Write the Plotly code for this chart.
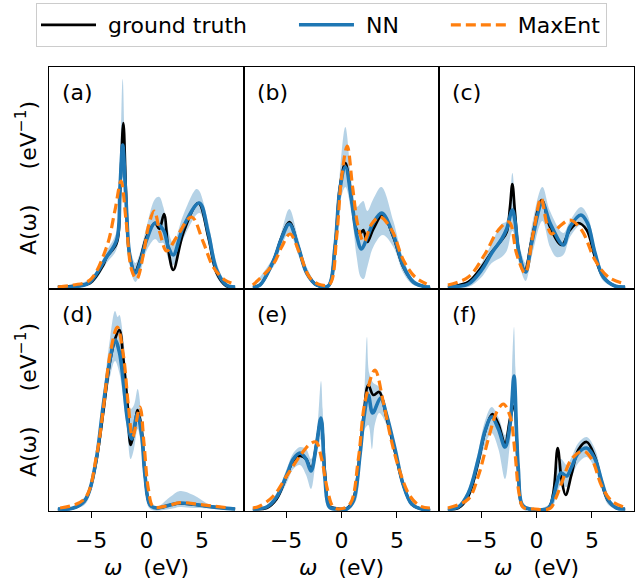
import plotly.graph_objects as go
from plotly.subplots import make_subplots

# Spectral functions A(omega): lists of (omega [eV], A [1/eV]) pairs per panel.

# ---------------- (a) ----------------
truth_a = [(-8, 0), (-6, 0.01), (-5.1, 0.02), (-3.9, 0.11), (-3.6, 0.15), (-2.69, 0.22), (-2.39, 0.47),
           (-2.09, 0.82), (-1.85, 0.47), (-1.55, 0.17), (-1.04, 0.077), (-0.59, 0.135), (0.0, 0.25),
           (0.77, 0.32), (1.16, 0.29), (1.58, 0.365), (1.97, 0.185), (2.42, 0.085), (3.32, 0.27),
           (4.68, 0.42), (5.58, 0.25), (6.33, 0.07), (7.2, 0.005), (8, 0)]
nn_a = [(-8, 0), (-6, 0.005), (-5.1, 0.025), (-3.6, 0.15), (-2.69, 0.235), (-2.39, 0.5), (-2.15, 0.71),
        (-1.85, 0.435), (-1.49, 0.15), (-1.0, 0.07), (-0.59, 0.12), (0.0, 0.235), (0.77, 0.32),
        (1.52, 0.285), (1.97, 0.2), (2.42, 0.16), (3.32, 0.3), (4.77, 0.42), (5.58, 0.27),
        (6.33, 0.085), (7.2, 0.01), (8, 0)]
nn_hi_a = [(-8, 0.005), (-5.1, 0.04), (-3.6, 0.18), (-2.69, 0.28), (-2.39, 0.6), (-2.15, 1.04),
           (-1.85, 0.5), (-1.49, 0.2), (-1.0, 0.12), (-0.59, 0.17), (0.0, 0.3), (0.77, 0.44),
           (1.16, 0.45), (1.52, 0.4), (1.97, 0.28), (2.42, 0.22), (3.32, 0.36), (4.5, 0.49),
           (4.77, 0.48), (5.58, 0.32), (6.33, 0.12), (7.2, 0.02), (8, 0)]
nn_lo_a = [(-8, 0), (-5.1, 0.01), (-3.6, 0.12), (-2.69, 0.19), (-2.39, 0.4), (-2.15, 0.55),
           (-1.85, 0.37), (-1.49, 0.1), (-1.0, 0.025), (-0.59, 0.07), (0.0, 0.18), (0.77, 0.24),
           (1.16, 0.22), (1.52, 0.22), (1.97, 0.14), (2.42, 0.11), (3.32, 0.24), (4.77, 0.37),
           (5.58, 0.22), (6.33, 0.05), (7.2, 0.0), (8, 0)]
maxent_a = [(-8, 0.0), (-6.6, 0.01), (-5.1, 0.035), (-3.6, 0.2), (-2.84, 0.385), (-2.3, 0.53),
            (-1.85, 0.335), (-1.34, 0.085), (-0.89, 0.04), (-0.29, 0.16), (0.16, 0.3), (0.7, 0.38),
            (1.22, 0.27), (1.82, 0.18), (2.72, 0.25), (4.07, 0.35), (5.12, 0.225), (6.02, 0.1),
            (7.07, 0.035), (7.97, 0.015)]

# ---------------- (b) ----------------
truth_b = [(-8, 0), (-7.36, 0.01), (-6.15, 0.13), (-5.4, 0.25), (-4.71, 0.325), (-3.9, 0.2),
           (-3.14, 0.07), (-2.24, 0.01), (-1.2, 0.005), (-0.59, 0.2), (-0.14, 0.5), (0.35, 0.62),
           (0.92, 0.435), (1.37, 0.285), (1.73, 0.27), (1.97, 0.285), (2.33, 0.225), (2.87, 0.29),
           (3.72, 0.36), (4.68, 0.25), (5.58, 0.1), (6.48, 0.025), (7.68, 0), (8, 0)]
nn_b = [(-8, 0), (-7.36, 0.01), (-6.15, 0.13), (-5.4, 0.245), (-4.71, 0.315), (-3.9, 0.2),
        (-3.14, 0.07), (-2.24, 0.01), (-1.2, 0.005), (-0.59, 0.2), (-0.14, 0.49), (0.35, 0.6),
        (0.92, 0.43), (1.37, 0.26), (1.8, 0.19), (2.33, 0.25), (2.87, 0.32), (3.63, 0.37),
        (4.68, 0.26), (5.58, 0.105), (6.48, 0.025), (7.68, 0), (8, 0)]
nn_hi_b = [(-8, 0.005), (-6.15, 0.15), (-5.4, 0.28), (-4.71, 0.39), (-3.9, 0.24), (-3.14, 0.1),
           (-2.24, 0.02), (-1.2, 0.01), (-0.59, 0.24), (-0.14, 0.58), (0.35, 0.8), (0.92, 0.52),
           (1.37, 0.4), (1.73, 0.42), (1.97, 0.43), (2.33, 0.38), (2.87, 0.44), (3.6, 0.5),
           (4.68, 0.33), (5.58, 0.14), (6.48, 0.04), (7.68, 0.005), (8, 0)]
nn_lo_b = [(-8, 0), (-6.15, 0.1), (-5.4, 0.21), (-4.71, 0.27), (-3.9, 0.16), (-3.14, 0.05),
           (-2.24, 0.0), (-1.2, 0.0), (-0.59, 0.16), (-0.14, 0.42), (0.35, 0.5), (0.92, 0.36),
           (1.37, 0.15), (1.73, 0.05), (2.0, 0.04), (2.33, 0.1), (2.87, 0.2), (3.72, 0.26),
           (4.68, 0.2), (5.58, 0.07), (6.48, 0.01), (8, 0)]
maxent_b = [(-8, 0.01), (-6.15, 0.115), (-5.4, 0.2), (-4.65, 0.265), (-3.75, 0.165), (-2.84, 0.045),
            (-1.8, 0.01), (-1.05, 0.015), (-0.44, 0.25), (0.01, 0.55), (0.52, 0.705), (1.0, 0.5),
            (1.51, 0.3), (2.02, 0.225), (2.72, 0.315), (3.48, 0.35), (4.53, 0.285), (5.58, 0.135),
            (6.63, 0.05), (7.68, 0.015)]

# ---------------- (c) ----------------
truth_c = [(-8, 0), (-7.36, 0.005), (-6.15, 0.025), (-4.95, 0.1), (-4.04, 0.175), (-3.14, 0.235),
           (-2.69, 0.275), (-2.39, 0.4), (-2.18, 0.515), (-1.94, 0.37), (-1.58, 0.17), (-1.04, 0.085),
           (-0.44, 0.235), (0.47, 0.435), (1.22, 0.3), (2.27, 0.21), (3.02, 0.285), (3.77, 0.32),
           (4.53, 0.285), (5.28, 0.15), (6.03, 0.05), (7.08, 0.005), (8, 0)]
nn_c = [(-8, 0), (-6.15, 0.015), (-4.95, 0.085), (-4.04, 0.17), (-3.14, 0.24), (-2.69, 0.29),
        (-2.18, 0.385), (-1.94, 0.33), (-1.58, 0.17), (-0.98, 0.075), (-0.44, 0.22), (0.53, 0.42),
        (1.22, 0.32), (2.42, 0.21), (3.02, 0.3), (4.01, 0.36), (4.6, 0.32), (5.28, 0.17),
        (6.03, 0.05), (7.08, 0.005), (8, 0)]
nn_hi_c = [(-8, 0), (-6.15, 0.03), (-4.95, 0.12), (-4.04, 0.22), (-3.14, 0.315), (-2.69, 0.33),
           (-2.18, 0.57), (-1.94, 0.42), (-1.58, 0.22), (-0.98, 0.12), (-0.44, 0.3), (0.53, 0.5),
           (1.22, 0.38), (2.42, 0.27), (3.02, 0.33), (4.01, 0.4), (4.6, 0.36), (5.28, 0.2),
           (6.03, 0.07), (7.08, 0.01), (8, 0)]
nn_lo_c = [(-8, 0), (-6.15, 0.0), (-4.95, 0.05), (-4.04, 0.12), (-3.14, 0.15), (-2.69, 0.18),
           (-2.18, 0.28), (-1.94, 0.25), (-1.58, 0.12), (-0.98, 0.03), (-0.44, 0.15), (0.53, 0.33),
           (1.22, 0.2), (1.8, 0.15), (2.42, 0.16), (3.02, 0.25), (4.01, 0.31), (4.6, 0.27),
           (5.28, 0.13), (6.03, 0.03), (7.08, 0), (8, 0)]
maxent_c = [(-8, 0.01), (-6.15, 0.05), (-4.65, 0.165), (-3.44, 0.285), (-2.48, 0.325), (-1.79, 0.165),
            (-1.04, 0.07), (-0.29, 0.27), (0.41, 0.445), (0.92, 0.32), (1.37, 0.265), (2.12, 0.305),
            (3.02, 0.335), (4.07, 0.285), (5.28, 0.135), (6.48, 0.05), (8.0, 0.015)]

# ---------------- (d) ----------------
truth_d = [(-8, 0), (-6.6, 0.005), (-5.6, 0.04), (-5.1, 0.1), (-4.5, 0.25), (-3.9, 0.485), (-3.3, 0.735),
           (-2.84, 0.85), (-2.45, 0.895), (-2.09, 0.75), (-1.73, 0.535), (-1.43, 0.32), (-1.13, 0.385),
           (-0.8, 0.495), (-0.44, 0.4), (-0.14, 0.17), (0.32, 0.02), (0.92, 0.005), (2.12, 0.02),
           (3.02, 0.028), (4.23, 0.023), (5.74, 0.012), (7.25, 0.003), (8, 0)]
nn_d = [(-8, 0), (-6.6, 0.005), (-5.6, 0.04), (-5.1, 0.1), (-4.5, 0.26), (-3.9, 0.52), (-3.3, 0.745),
        (-2.84, 0.845), (-2.45, 0.785), (-2.09, 0.635), (-1.73, 0.45), (-1.34, 0.35), (-0.83, 0.475),
        (-0.44, 0.37), (-0.14, 0.17), (0.32, 0.02), (0.92, 0.005), (2.12, 0.02), (3.02, 0.03),
        (4.23, 0.024), (5.74, 0.012), (7.25, 0.003), (8, 0)]
nn_hi_d = [(-8, 0), (-6.6, 0.01), (-5.6, 0.06), (-5.1, 0.12), (-4.5, 0.29), (-3.9, 0.57), (-3.3, 0.85),
           (-2.84, 0.99), (-2.6, 0.96), (-2.45, 0.97), (-2.09, 0.85), (-1.73, 0.6), (-1.43, 0.5),
           (-1.13, 0.52), (-0.8, 0.6), (-0.44, 0.45), (-0.14, 0.22), (0.32, 0.03), (0.92, 0.01),
           (2.12, 0.06), (3.02, 0.09), (4.23, 0.07), (5.74, 0.02), (7.25, 0.005), (8, 0)]
nn_lo_d = [(-8, 0), (-6.6, 0), (-5.6, 0.02), (-5.1, 0.07), (-4.5, 0.21), (-3.9, 0.46), (-3.3, 0.66),
           (-2.84, 0.74), (-2.45, 0.68), (-2.09, 0.55), (-1.73, 0.38), (-1.43, 0.25), (-1.13, 0.3),
           (-0.8, 0.4), (-0.44, 0.3), (-0.14, 0.12), (0.32, 0.0), (2.12, 0.0), (3.02, 0.01),
           (4.23, 0.005), (8, 0)]
maxent_d = [(-7.8, 0.005), (-5.6, 0.05), (-4.5, 0.27), (-3.9, 0.5), (-3.3, 0.77), (-2.63, 0.91),
            (-2.09, 0.77), (-1.64, 0.52), (-1.25, 0.36), (-0.59, 0.51), (-0.23, 0.33), (0.17, 0.1),
            (0.62, 0.012), (1.82, 0.015), (3.02, 0.032), (4.83, 0.022), (7.55, 0.005)]

# ---------------- (e) ----------------
truth_e = [(-8, 0), (-6.75, 0.005), (-5.85, 0.05), (-4.95, 0.165), (-4.35, 0.24), (-3.75, 0.265),
           (-3.2, 0.25), (-2.75, 0.2), (-2.24, 0.33), (-1.85, 0.45), (-1.49, 0.18), (-1.1, 0.015),
           (-0.44, 0.003), (0.47, 0.003), (1.07, 0.05), (1.67, 0.285), (2.03, 0.485), (2.42, 0.62),
           (2.87, 0.57), (3.41, 0.585), (4.07, 0.455), (4.83, 0.285), (5.58, 0.12), (6.33, 0.025),
           (7.23, 0), (8, 0)]
nn_e = [(-8, 0), (-6.75, 0.01), (-5.85, 0.06), (-4.95, 0.17), (-4.35, 0.25), (-3.75, 0.28),
        (-3.2, 0.25), (-2.75, 0.19), (-2.24, 0.33), (-1.85, 0.455), (-1.49, 0.15), (-1.1, 0.01),
        (-0.44, 0.0), (0.47, 0.0), (1.07, 0.04), (1.67, 0.27), (2.03, 0.46), (2.42, 0.57),
        (2.81, 0.48), (3.53, 0.555), (4.07, 0.47), (4.83, 0.3), (5.58, 0.12), (6.33, 0.025),
        (7.23, 0), (8, 0)]
nn_hi_e = [(-8, 0), (-6.75, 0.02), (-5.85, 0.08), (-4.95, 0.2), (-4.35, 0.28), (-3.75, 0.31),
           (-3.2, 0.3), (-2.75, 0.25), (-2.24, 0.38), (-1.85, 0.64), (-1.7, 0.5), (-1.49, 0.22),
           (-1.1, 0.03), (-0.44, 0.005), (0.47, 0.005), (1.07, 0.07), (1.67, 0.33), (2.03, 0.55),
           (2.3, 0.86), (2.5, 0.68), (2.87, 0.63), (3.41, 0.61), (4.07, 0.5), (4.83, 0.32),
           (5.58, 0.14), (6.33, 0.035), (7.23, 0.005), (8, 0)]
nn_lo_e = [(-8, 0), (-6.75, 0), (-5.85, 0.04), (-4.95, 0.13), (-4.35, 0.2), (-3.75, 0.22),
           (-3.2, 0.17), (-2.75, 0.1), (-2.24, 0.27), (-1.85, 0.35), (-1.49, 0.1), (-1.1, 0),
           (1.07, 0.02), (1.67, 0.22), (2.03, 0.39), (2.42, 0.42), (2.75, 0.3), (3.0, 0.42),
           (3.41, 0.48), (4.07, 0.42), (4.83, 0.26), (5.58, 0.1), (6.33, 0.015), (7.23, 0), (8, 0)]
maxent_e = [(-8.0, 0.005), (-7.36, 0.015), (-6.15, 0.065), (-4.95, 0.165), (-3.75, 0.265),
            (-2.84, 0.325), (-2.3, 0.335), (-1.79, 0.25), (-1.28, 0.1), (-0.74, 0.01), (-0.14, 0),
            (0.77, 0.025), (1.52, 0.25), (2.12, 0.535), (3.02, 0.695), (3.77, 0.535), (4.53, 0.335),
            (5.28, 0.185), (6.18, 0.065), (7.08, 0.015), (7.98, 0.005)]

# ---------------- (f) ----------------
truth_f = [(-8, 0), (-7.06, 0.005), (-6.15, 0.065), (-5.25, 0.235), (-4.65, 0.385), (-3.99, 0.475),
           (-3.44, 0.425), (-2.84, 0.325), (-2.39, 0.45), (-2.03, 0.515), (-1.64, 0.18), (-1.28, 0.015),
           (-0.59, 0.0), (1.07, 0.005), (1.52, 0.08), (1.91, 0.305), (2.27, 0.145), (2.63, 0.07),
           (3.17, 0.175), (3.77, 0.295), (4.53, 0.335), (5.28, 0.26), (5.88, 0.13), (6.48, 0.04),
           (7.23, 0.005), (8, 0)]
nn_f = [(-8, 0), (-7.06, 0.01), (-6.15, 0.08), (-5.25, 0.25), (-4.65, 0.39), (-4.05, 0.46),
        (-3.44, 0.4), (-2.84, 0.31), (-2.39, 0.42), (-2.03, 0.665), (-1.79, 0.365), (-1.64, 0.2),
        (-1.28, 0.02), (-0.59, 0.0), (1.07, 0.005), (1.52, 0.06), (2.21, 0.18), (2.72, 0.165),
        (3.17, 0.21), (3.77, 0.28), (4.53, 0.305), (5.28, 0.25), (5.88, 0.14), (6.48, 0.045),
        (7.23, 0.005), (8, 0)]
nn_hi_f = [(-8, 0), (-7.06, 0.015), (-6.15, 0.1), (-5.25, 0.29), (-4.65, 0.44), (-4.05, 0.51),
           (-3.44, 0.46), (-2.84, 0.37), (-2.39, 0.5), (-2.15, 0.8), (-2.03, 0.91), (-1.9, 0.7),
           (-1.64, 0.27), (-1.28, 0.04), (-0.59, 0.005), (1.07, 0.02), (1.52, 0.12), (2.21, 0.25),
           (2.72, 0.22), (3.17, 0.26), (3.77, 0.33), (4.53, 0.36), (5.28, 0.3), (5.88, 0.17),
           (6.48, 0.06), (7.23, 0.01), (8, 0)]
nn_lo_f = [(-8, 0), (-7.06, 0), (-6.15, 0.05), (-5.25, 0.2), (-4.65, 0.32), (-4.05, 0.38),
           (-3.44, 0.3), (-2.84, 0.15), (-2.39, 0.33), (-2.03, 0.5), (-1.79, 0.3), (-1.64, 0.13),
           (-1.28, 0.0), (1.07, 0), (1.52, 0.02), (2.21, 0.12), (2.72, 0.11), (3.17, 0.16),
           (3.77, 0.23), (4.53, 0.26), (5.28, 0.2), (5.88, 0.1), (6.48, 0.02), (7.23, 0), (8, 0)]
maxent_f = [(-8.0, 0.005), (-6.15, 0.05), (-5.25, 0.165), (-4.35, 0.35), (-3.59, 0.485),
            (-2.99, 0.525), (-2.39, 0.465), (-1.94, 0.28), (-1.58, 0.08), (-1.19, 0.008),
            (-0.14, 0), (1.22, 0.003), (1.82, 0.065), (2.27, 0.13), (3.17, 0.25), (4.22, 0.29),
            (4.98, 0.25), (5.88, 0.115), (6.78, 0.04), (8.13, 0.005)]

panel_labels = ["(a)", "(b)", "(c)", "(d)", "(e)", "(f)"]
legend_names = ["ground truth", "NN", "MaxEnt"]
x_ticks = [-5, 0, 5]

panels = [
    (truth_a, nn_a, nn_lo_a, nn_hi_a, maxent_a),
    (truth_b, nn_b, nn_lo_b, nn_hi_b, maxent_b),
    (truth_c, nn_c, nn_lo_c, nn_hi_c, maxent_c),
    (truth_d, nn_d, nn_lo_d, nn_hi_d, maxent_d),
    (truth_e, nn_e, nn_lo_e, nn_hi_e, maxent_e),
    (truth_f, nn_f, nn_lo_f, nn_hi_f, maxent_f),
]

FONT = "DejaVu Sans"
BLACK, BLUE, ORANGE = "#000000", "#1f77b4", "#ff7f0e"
BAND = "rgba(31,119,180,0.33)"
X_RANGE = [-8.8, 8.8]
Y_RANGE = [-0.01, 1.10]
NB = "\u00a0"


def xs(pts):
    return [p[0] for p in pts]


def ys(pts):
    return [p[1] for p in pts]


def legend_label(name, trailing):
    # padding keeps the gaps between legend entries
    return NB + name + NB * trailing


fig = make_subplots(rows=2, cols=3, shared_xaxes=True, shared_yaxes=True,
                    horizontal_spacing=0, vertical_spacing=0)

for i, (truth, nn, lo, hi, me) in enumerate(panels):
    r, c = i // 3 + 1, i % 3 + 1
    first = i == 0
    # uncertainty band of the network prediction
    fig.add_trace(go.Scatter(x=xs(hi) + xs(lo)[::-1], y=ys(hi) + ys(lo)[::-1],
                             fill="toself", fillcolor=BAND, mode="lines",
                             line=dict(width=0, shape="spline", smoothing=1.0),
                             showlegend=False, hoverinfo="skip"), row=r, col=c)
    fig.add_trace(go.Scatter(x=xs(truth), y=ys(truth), mode="lines",
                             name=legend_label(legend_names[0], 6),
                             legendgroup="truth", showlegend=first,
                             line=dict(color=BLACK, width=2.7, shape="spline", smoothing=1.0)),
                  row=r, col=c)
    fig.add_trace(go.Scatter(x=xs(nn), y=ys(nn), mode="lines",
                             name=legend_label(legend_names[1], 6),
                             legendgroup="nn", showlegend=first,
                             line=dict(color=BLUE, width=3.6, shape="spline", smoothing=1.0)),
                  row=r, col=c)
    fig.add_trace(go.Scatter(x=xs(me), y=ys(me), mode="lines",
                             name=legend_label(legend_names[2], 0),
                             legendgroup="maxent", showlegend=first,
                             line=dict(color=ORANGE, width=3.2, dash="10px,5px",
                                       shape="spline", smoothing=1.0)),
                  row=r, col=c)
    fig.add_annotation(text=panel_labels[i], x=-7.8, y=0.975, xanchor="left", yanchor="middle",
                       showarrow=False, font=dict(family=FONT, size=22, color="black"),
                       row=r, col=c)

axis_common = dict(showline=True, mirror=True, linecolor="black", linewidth=1.3,
                   showgrid=False, zeroline=False)
for c in range(1, 4):
    for r in range(1, 3):
        bottom = r == 2
        fig.update_xaxes(range=X_RANGE, tickvals=x_ticks, ticks="outside" if bottom else "",
                         ticklen=6, tickwidth=1.2, tickcolor="black", showticklabels=bottom,
                         ticklabelstandoff=3,
                         tickfont=dict(family=FONT, size=22, color="black"),
                         row=r, col=c, **axis_common)
        fig.update_yaxes(range=Y_RANGE, showticklabels=False, ticks="", row=r, col=c, **axis_common)
    fig.update_xaxes(title=dict(text="<i>ω</i>" + NB * 3 + "(eV)",
                                font=dict(family=FONT, size=22, color="black"), standoff=9),
                     row=2, col=c)
for r in range(1, 3):
    fig.update_yaxes(title=dict(text="A(ω)" + NB * 5 + "(eV<sup>−1</sup>)",
                                font=dict(family=FONT, size=22, color="black"), standoff=5),
                     row=r, col=1)

fig.update_layout(
    width=637, height=580,
    margin=dict(l=49, r=3, t=67, b=69),
    paper_bgcolor="white", plot_bgcolor="white",
    font=dict(family=FONT, size=22, color="black"),
    legend=dict(orientation="h", x=(36 - 49) / 585, xanchor="left", y=(511 - 3) / 444,
                yanchor="top", font=dict(family=FONT, size=22, color="black"),
                bordercolor="#cccccc", borderwidth=1, bgcolor="white", itemwidth=55),
)

fig.write_html("out.html")
